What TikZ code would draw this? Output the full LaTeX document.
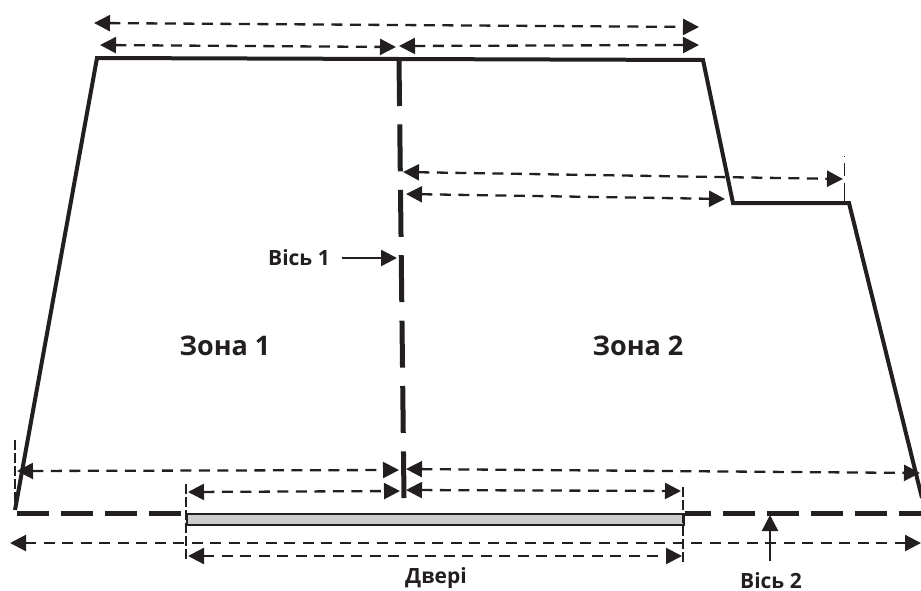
\documentclass[tikz,border=0pt]{standalone}
\usepackage{fontspec}
\setmainfont{Open Sans}
\usetikzlibrary{arrows.meta}
\definecolor{ink}{HTML}{231F20}
\definecolor{doorgrey}{HTML}{CCCCCC}
\tikzset{
  x=1pt,y=-1pt,
  wall/.style={draw=ink,line width=4pt,line join=miter},
  axisline/.style={draw=ink,line width=5pt},
  dimline/.style={draw=ink,line width=2.3pt,dash pattern=on 11pt off 7.5pt,{Triangle[length=16pt,width=16pt]}-{Triangle[length=16pt,width=16pt]}},
  pointer/.style={draw=ink,line width=2.4pt,-{Triangle[length=16pt,width=16pt]}},
  ext/.style={draw=ink,line width=1.2pt,dash pattern=on 10pt off 3pt},
  lbl/.style={text=ink,inner sep=0pt,anchor=base},
  bigtext/.style={lbl,font=\bfseries\fontsize{27}{30}\selectfont},
  smalltext/.style={lbl,font=\bfseries\fontsize{21}{24}\selectfont},
}
\begin{document}
\begin{tikzpicture}
\useasboundingbox (0,0) rectangle (921,590);
% outline corners
\coordinate (bl) at (15,510);
\coordinate (tl) at (97,58);
\coordinate (tr) at (703,60);
\coordinate (n1) at (733,203);
\coordinate (n2) at (849,203);
\coordinate (br) at (922,498);
\draw[wall] (bl) -- (tl) -- (tr) -- (n1) -- (n2) -- (br);
% axis 1
\coordinate (a1t) at (399,59);
\coordinate (a1b) at (404,498);
\draw[axisline,dash pattern=on 47pt off 18.4pt] (a1t) -- (a1b);
% door
\node[draw=ink,fill=doorgrey,line width=1.5pt,minimum width=497pt,minimum height=11pt,inner sep=0pt,anchor=north west] (door) at (186,513) {};
% axis 2
\coordinate (a2l) at (17,513);
\coordinate (a2r) at (921,513);
\draw[axisline,dash pattern=on 32pt off 12pt] (a2l) -- (door.north west);
\draw[axisline,dash pattern=on 26pt off 12pt on 32pt off 12pt on 32pt off 12pt on 32pt off 12pt on 32pt off 12pt on 32pt off 12pt] (door.north east) -- (a2r);
% extension lines
\coordinate (e1t) at (15,440); \coordinate (e1b) at (15,510);
\coordinate (e2t) at (186,484); \coordinate (e2b) at (186,562);
\coordinate (e3t) at (683,487); \coordinate (e3b) at (683,565);
\coordinate (e4t) at (844,156); \coordinate (e4b) at (844,203);
\draw[ext] (e1t) -- (e1b);
\draw[ext] (e2t) -- (e2b);
\draw[ext] (e3t) -- (e3b);
\draw[ext,line width=1pt,dash pattern=on 1pt off 6pt on 13pt off 7pt on 30pt off 2pt] (e4t) -- (e4b);
% dimension lines
\coordinate (d1a) at (94,23);  \coordinate (d1b) at (699,27);
\coordinate (d2a) at (100,45); \coordinate (d2b) at (396,47);
\coordinate (d3a) at (399,46); \coordinate (d3b) at (699,45);
\coordinate (d4a) at (403,172);\coordinate (d4b) at (843,179);
\coordinate (d5a) at (406,194);\coordinate (d5b) at (725,199);
\coordinate (d6a) at (17,471); \coordinate (d6b) at (399,470);
\coordinate (d7a) at (406,469);\coordinate (d7b) at (920,473);
\coordinate (d8a) at (188,492);\coordinate (d8b) at (400,491);
\coordinate (d9a) at (406,490);\coordinate (d9b) at (681,491);
\coordinate (d10a) at (10,543);\coordinate (d10b) at (921,543);
\coordinate (d11a) at (188,556);\coordinate (d11b) at (682,556);
\foreach \i in {1,...,11} \draw[dimline] (d\i a) -- (d\i b);
% labels
\node[bigtext] (z1) at (225,355) {Зона 1};
\node[bigtext] (z2) at (638,355) {Зона 2};
\node[smalltext] (v1) at (299,265) {Вісь 1};
\node[smalltext] (dv) at (436,583) {Двері};
\node[smalltext] (v2) at (771,588) {Вісь 2};
% pointers
\coordinate (p1) at (397,258);
\coordinate (p2a) at (770,561);
\coordinate (p2) at (770,515);
\draw[pointer] (342,258) -- (p1);
\draw[pointer] (p2a) -- (p2);
\end{tikzpicture}
\end{document}
